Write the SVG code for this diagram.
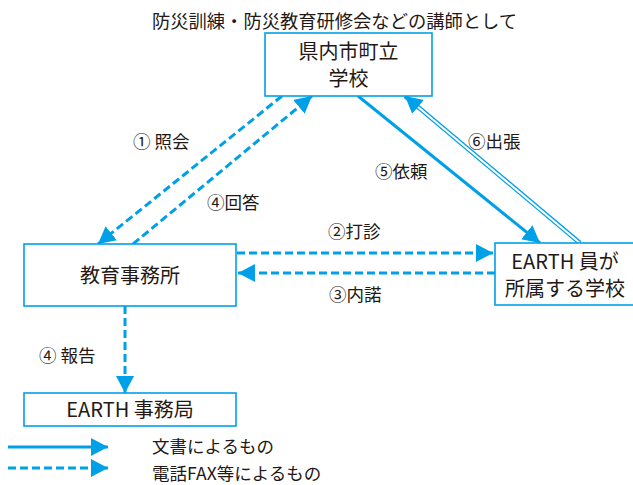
<svg xmlns="http://www.w3.org/2000/svg" width="633" height="485" viewBox="0 0 633 485">
<style>
text{font-family:"Noto Sans CJK JP","Noto Sans",sans-serif;fill:#231815;}
.box{fill:#fff;stroke:#00a0e9;stroke-width:1.6;}
.t{font-size:20px;text-anchor:middle;}
.lbl{font-size:17.5px;}
.dash{stroke:#00a0e9;stroke-width:3;stroke-dasharray:8 4;fill:none;}
.solid{stroke:#00a0e9;stroke-width:3;fill:none;}
</style>
<defs>
<marker id="ah" markerUnits="userSpaceOnUse" markerWidth="18" markerHeight="19" refX="17" refY="9" orient="auto" viewBox="0 0 18 19">
<path d="M0,0 L17,9 L0,18 z" fill="#00a0e9"/>
</marker>
</defs>

<text class="lbl" x="152" y="28" style="font-size:18.3px">防災訓練・防災教育研修会などの講師として</text>

<g id="connectors">
<line class="dash" x1="282" y1="96" x2="98" y2="244" marker-end="url(#ah)"/>
<line class="dash" x1="133" y1="244" x2="312" y2="96" marker-end="url(#ah)"/>
<line class="solid" x1="358" y1="96" x2="540" y2="243" marker-end="url(#ah)"/>
<line x1="580" y1="243" x2="405" y2="96" stroke="#00a0e9" stroke-width="4.5" marker-end="url(#ah)"/>
<line x1="581" y1="244" x2="418" y2="107" stroke="#fff" stroke-width="2"/>
<line class="dash" x1="237" y1="253" x2="493" y2="253" marker-end="url(#ah)"/>
<line class="dash" x1="495" y1="273" x2="238" y2="273" marker-end="url(#ah)"/>
<line class="dash" x1="125" y1="306" x2="125" y2="393" marker-end="url(#ah)"/>
<text class="lbl" x="133" y="148">① 照会</text>
<text class="lbl" x="207" y="209">④回答</text>
<text class="lbl" x="375" y="178">⑤依頼</text>
<text class="lbl" x="468" y="148">⑥出張</text>
<text class="lbl" x="328" y="238">②打診</text>
<text class="lbl" x="329" y="301">③内諾</text>
<text class="lbl" x="39" y="362">④ 報告</text>
</g>

<g id="school">
<rect class="box" x="265" y="33" width="167" height="63"/>
<text class="t" x="348.5" y="59">県内市町立</text>
<text class="t" x="348.5" y="86">学校</text>
</g>

<g id="office">
<rect class="box" x="24" y="244" width="212" height="62"/>
<text class="t" x="130" y="283">教育事務所</text>
</g>

<g id="earth-office">
<rect class="box" x="24" y="393" width="212" height="33"/>
<text class="t" x="130" y="417">EARTH 事務局</text>
</g>

<g id="earth-school">
<rect class="box" x="495" y="243" width="142" height="62"/>
<text class="t" x="565" y="269">EARTH 員が</text>
<text class="t" x="565" y="296">所属する学校</text>
</g>

<g id="legend">
<line class="solid" x1="8" y1="447" x2="108" y2="447" marker-end="url(#ah)"/>
<line class="dash" x1="8" y1="468" x2="108" y2="468" marker-end="url(#ah)"/>
<text class="lbl" x="152" y="453">文書によるもの</text>
<text class="lbl" x="152" y="480">電話FAX等によるもの</text>
</g>
</svg>
